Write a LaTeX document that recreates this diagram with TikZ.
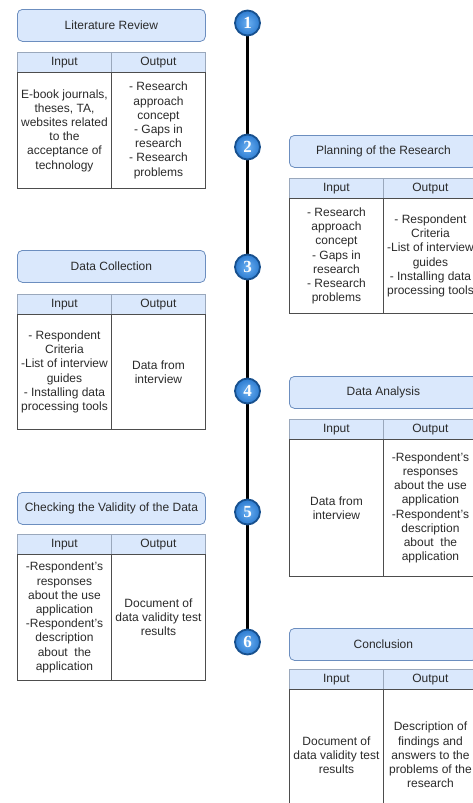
\documentclass[tikz,border=0pt]{standalone}
\usepackage{fontspec}
\setmainfont{Liberation Sans}
\newfontfamily\numfont{Liberation Serif}
\definecolor{tfill}{HTML}{DAE8FC}
\definecolor{tdraw}{HTML}{6C8EBF}
\definecolor{hdraw}{HTML}{9AA8BC}
\definecolor{bdraw}{HTML}{4D4D4D}
\definecolor{txt}{HTML}{2A2A2A}
\definecolor{cin}{HTML}{6BB0F2}
\definecolor{cout}{HTML}{2C7BD0}
\definecolor{cdraw}{HTML}{17508E}
\tikzset{
  titlebox/.style={draw=tdraw, fill=tfill, rounded corners=5pt, line width=0.8pt,
    minimum width=188pt, minimum height=32pt, anchor=north west, inner sep=0pt,
    text=txt, font=\fontsize{12}{14}\selectfont},
  hdrcell/.style={draw=hdraw, fill=tfill, line width=0.8pt, minimum width=94pt,
    minimum height=20pt, anchor=north west, inner sep=0pt, text=txt,
    font=\fontsize{12}{14}\selectfont},
  bodycell/.style={draw=bdraw, line width=0.9pt, minimum width=94pt,
    anchor=north west, inner sep=0pt, text=txt, align=center,
    font=\fontsize{12}{14.2}\selectfont},
  stepnum/.style={circle, draw=cdraw, line width=1.8pt, inner color=cin,
    outer color=cout, minimum size=25pt, inner sep=0pt, text=white,
    font=\numfont\bfseries\fontsize{17}{17}\selectfont},
  timeline/.style={line width=3pt, black}
}
\newcommand\iosec[8]{%
  \node[titlebox] (#8t) at (#1,#2) {#5};
  \node[hdrcell] (#8hi) at (#1,#3) {Input};
  \node[hdrcell] (#8ho) at ({#1+94},#3) {Output};
  \node[bodycell, minimum height={#4-#3-20}] (#8bi) at (#1,{#3+20}) {#6};
  \node[bodycell, minimum height={#4-#3-20}] (#8bo) at ({#1+94},{#3+20}) {#7};
}
\begin{document}
\begin{tikzpicture}[x=1pt,y=-1pt]
\useasboundingbox (0,0) rectangle (473,803);
\clip (0,0) rectangle (473,803);
% timeline
\coordinate (s1) at (247.5,23);
\coordinate (s6) at (247.5,642);
\draw[timeline] (s1) -- (s6);
\node[stepnum] (n1) at (247.5,23) {1};
\node[stepnum] (n2) at (247.5,147) {2};
\node[stepnum] (n3) at (247.5,267) {3};
\node[stepnum] (n4) at (247.5,391) {4};
\node[stepnum] (n5) at (247.5,512) {5};
\node[stepnum] (n6) at (247.5,642) {6};
% sections
\iosec{17}{9}{52}{188}{Literature Review}
  {E-book journals,\\theses, TA,\\websites related\\to the\\acceptance of\\technology}
  {- Research\\approach\\concept\\- Gaps in\\research\\- Research\\problems}{lr}
\iosec{289}{135}{178}{313}{Planning of the Research}
  {- Research\\approach\\concept\\- Gaps in\\research\\- Research\\problems}
  {- Respondent\\Criteria\\-List of interview\\guides\\- Installing data\\processing tools}{pr}
\iosec{17}{250}{294}{429}{Data Collection}
  {- Respondent\\Criteria\\-List of interview\\guides\\- Installing data\\processing tools}
  {Data from\\interview}{dc}
\iosec{289}{376}{419}{576}{Data Analysis}
  {Data from\\interview}
  {-Respondent's\\responses\\about the use\\application\\-Respondent's\\description\\about\ \ the\\application}{da}
\iosec{17}{492}{534}{680}{Checking the Validity of the Data}
  {-Respondent's\\responses\\about the use\\application\\-Respondent's\\description\\about\ \ the\\application}
  {Document of\\data validity test\\results}{cv}
\iosec{289}{628}{669}{820}{Conclusion}
  {Document of\\data validity test\\results}
  {Description of\\findings and\\answers to the\\problems of the\\research}{cc}
\end{tikzpicture}
\end{document}
